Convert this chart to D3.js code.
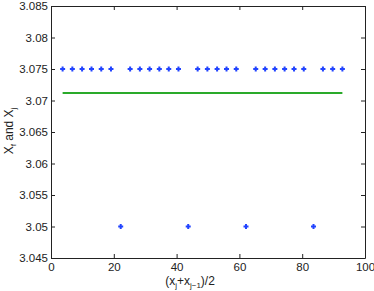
<!DOCTYPE html>
<html>
<head>
<meta charset="utf-8">
<script src="https://cdn.jsdelivr.net/npm/d3@7"></script>
<style>
  body { margin: 0; background: #fff; }
  text { font-family: "Liberation Sans", Arial, sans-serif; fill: #222; }
</style>
</head>
<body>
<script>
// midpoints (x_j + x_{j-1})/2
const midX = [3.7, 6.8, 9.9, 12.9, 16.0, 19.1, 22.2, 25.2, 28.3, 31.4, 34.5, 37.5, 40.6, 43.7,
  46.7, 49.8, 52.9, 55.9, 59.0, 62.1, 65.2, 68.2, 71.3, 74.4, 77.4, 80.5, 83.6, 86.6, 89.7, 92.8];
const xjVals = [3.075, 3.075, 3.075, 3.075, 3.075, 3.075, 3.05, 3.075, 3.075, 3.075, 3.075, 3.075, 3.075, 3.05,
  3.075, 3.075, 3.075, 3.075, 3.075, 3.05, 3.075, 3.075, 3.075, 3.075, 3.075, 3.075, 3.05, 3.075, 3.075, 3.075];
const xfLine = [[3.7, 3.07119], [92.8, 3.07119]];
const xTicks = [0, 20, 40, 60, 80, 100];
const yTicks = [3.045, 3.05, 3.055, 3.06, 3.065, 3.07, 3.075, 3.08, 3.085];

const W = 374, H = 291;
const m = { left: 51, right: 9, top: 6, bottom: 33 };

const svg = d3.select("body").append("svg").attr("width", W).attr("height", H);

const x = d3.scaleLinear().domain([0, 100]).range([m.left, W - m.right]);
const y = d3.scaleLinear().domain([3.045, 3.085]).range([H - m.bottom, m.top]);

const fmt = d => String(+d.toFixed(3));

// bottom / left axes with inward ticks
svg.append("g")
  .attr("transform", `translate(0,${H - m.bottom})`)
  .call(d3.axisBottom(x).tickValues(xTicks).tickFormat(fmt).tickSizeInner(-4).tickSizeOuter(0).tickPadding(5))
  .call(g => g.selectAll("text").attr("font-size", 11.5));
svg.append("g")
  .attr("transform", `translate(${m.left},0)`)
  .call(d3.axisLeft(y).tickValues(yTicks).tickFormat(fmt).tickSizeInner(-4).tickSizeOuter(0).tickPadding(3))
  .call(g => g.selectAll("text").attr("font-size", 11.5));
// top / right (box)
svg.append("g")
  .attr("transform", `translate(0,${m.top})`)
  .call(d3.axisTop(x).tickValues(xTicks).tickFormat("").tickSizeInner(-4).tickSizeOuter(0));
svg.append("g")
  .attr("transform", `translate(${W - m.right},0)`)
  .call(d3.axisRight(y).tickValues(yTicks).tickFormat("").tickSizeInner(-4).tickSizeOuter(0));
svg.selectAll(".domain").attr("stroke", "#222");
svg.selectAll(".tick line").attr("stroke", "#222");

// Xf line
svg.append("path")
  .datum(xfLine)
  .attr("fill", "none")
  .attr("stroke", "#2aaa2a")
  .attr("stroke-width", 2)
  .attr("d", d3.line().x(d => x(d[0])).y(d => y(d[1])));

// Xj markers
const pts = midX.map((v, i) => [v, xjVals[i]]);
svg.append("g").selectAll("path")
  .data(pts)
  .join("path")
  .attr("transform", d => `translate(${x(d[0])},${y(d[1])})`)
  .attr("d", "M-2.5,0H2.5M0,-2.5V2.5")
  .attr("stroke", "#2244ff")
  .attr("stroke-width", 2);

// axis labels
const xl = svg.append("text")
  .attr("x", 190).attr("y", 285)
  .attr("text-anchor", "middle")
  .attr("font-size", 12);
xl.append("tspan").text("(x");
xl.append("tspan").text("j").attr("font-size", 8).attr("dy", 3);
xl.append("tspan").text("+x").attr("dy", -3);
xl.append("tspan").text("j−1").attr("font-size", 8).attr("dy", 3);
xl.append("tspan").text(")/2").attr("dy", -3);

const yl = svg.append("text")
  .attr("transform", "translate(13,131) rotate(-90)")
  .attr("text-anchor", "middle")
  .attr("font-size", 12);
yl.append("tspan").text("X");
yl.append("tspan").text("f").attr("font-size", 8).attr("dy", 3);
yl.append("tspan").text(" and X").attr("dy", -3);
yl.append("tspan").text("j").attr("font-size", 8).attr("dy", 3);
</script>
</body>
</html>
